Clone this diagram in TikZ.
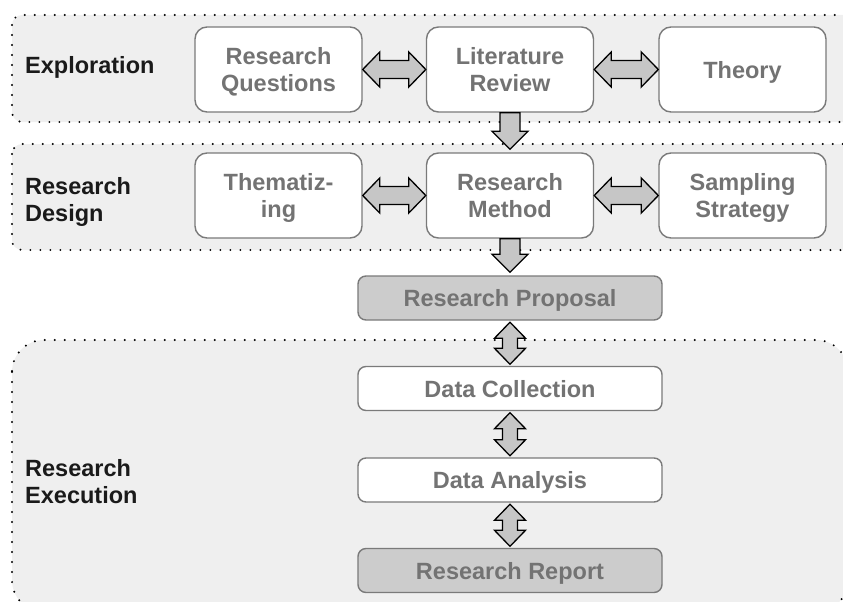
\documentclass[tikz,border=0pt]{standalone}
\usepackage{fontspec}
\setmainfont{Liberation Sans}
\usetikzlibrary{calc}
\definecolor{bandfill}{HTML}{EFEFEF}
\definecolor{boxline}{HTML}{7A7A7A}
\definecolor{boxtext}{HTML}{737373}
\definecolor{arrowfill}{HTML}{C6C6C6}
\definecolor{keyfill}{HTML}{CCCCCC}
\definecolor{labeltext}{HTML}{1A1A1A}
\tikzset{
  band/.style={fill=bandfill, draw=black, line width=2.2pt, line cap=round,
    dash pattern=on 0pt off 10pt},
  bandlabel/.style={anchor=west, align=left, text=labeltext, inner sep=0pt,
    text depth=0pt, font=\fontsize{23.5}{27}\selectfont\bfseries},
  stagebox/.style={draw=boxline, line width=1.4pt, fill=white, rounded corners=12pt,
    minimum width=167pt, minimum height=85pt, align=center, text=boxtext,
    inner sep=0pt, text depth=0pt, font=\fontsize{23.5}{27}\selectfont\bfseries},
  colbox/.style={stagebox, minimum width=304pt, minimum height=44pt, rounded corners=8pt},
  keybox/.style={colbox, fill=keyfill},
  arrowbase/.style={draw=black, line width=1.3pt, fill=arrowfill, line join=miter},
  % horizontal two-headed block arrow between two anchors
  hdbl/.style={arrowbase, to path={
    let \p1=(\tikztostart), \p2=(\tikztotarget) in
    (\x1,\y1) -- ({\x1+17pt},{\y1+17.5pt}) -- ({\x1+17pt},{\y1+9pt})
    -- ({\x2-17pt},{\y1+9pt}) -- ({\x2-17pt},{\y1+17.5pt}) -- (\x2,\y1)
    -- ({\x2-17pt},{\y1-17.5pt}) -- ({\x2-17pt},{\y1-9pt})
    -- ({\x1+17pt},{\y1-9pt}) -- ({\x1+17pt},{\y1-17.5pt}) -- cycle}},
  % vertical two-headed block arrow (start above target)
  vdbl/.style={arrowbase, to path={
    let \p1=(\tikztostart), \p2=(\tikztotarget) in
    (\x1,\y1) -- ({\x1+15.5pt},{\y1-16pt}) -- ({\x1+7.5pt},{\y1-16pt})
    -- ({\x1+7.5pt},{\y2+16pt}) -- ({\x1+15.5pt},{\y2+16pt}) -- (\x1,\y2)
    -- ({\x1-15.5pt},{\y2+16pt}) -- ({\x1-7.5pt},{\y2+16pt})
    -- ({\x1-7.5pt},{\y1-16pt}) -- ({\x1-15.5pt},{\y1-16pt}) -- cycle}},
  % downward one-headed block arrow
  vdown/.style={arrowbase, to path={
    let \p1=(\tikztostart), \p2=(\tikztotarget) in
    ({\x1-10pt},\y1) -- ({\x1+10pt},\y1) -- ({\x1+10pt},{\y2+18pt})
    -- ({\x1+18pt},{\y2+18pt}) -- (\x1,\y2) -- ({\x1-18pt},{\y2+18pt})
    -- ({\x1-10pt},{\y2+18pt}) -- cycle}},
}
\begin{document}
\begin{tikzpicture}[x=1pt, y=-1pt]
  \path[use as bounding box, clip] (0,0) rectangle (843,602);

  % phase bands
  \draw[band, rounded corners=10pt] (12,15) rectangle (853,122);
  \draw[band, rounded corners=10pt] (12,144) rectangle (853,250);
  \draw[band, rounded corners=32pt] (12,340) rectangle (848,612);

  \node[bandlabel] (lexp) at (25,65) {Exploration};
  \node[bandlabel] (ldes) at (25,199) {Research\\Design};
  \node[bandlabel] (lexe) at (25,481) {Research\\Execution};

  % exploration row
  \node[stagebox] (rq) at (278.5,69.5) {Research\\Questions};
  \node[stagebox] (lr) at (510,69.5) {Literature\\Review};
  \node[stagebox] (th) at (742.5,69.5) {Theory};

  % design row
  \node[stagebox] (them) at (278.5,195.5) {Thematiz-\\ing};
  \node[stagebox] (rm) at (510,195.5) {Research\\Method};
  \node[stagebox] (ss) at (742.5,195.5) {Sampling\\Strategy};

  % execution column
  \node[keybox] (rp) at (510,298) {Research Proposal};
  \node[colbox] (dc) at (510,388.5) {Data Collection};
  \node[colbox] (da) at (510,480) {Data Analysis};
  \node[keybox] (rr) at (510,570.5) {Research Report};

  % connectors
  \draw[hdbl] (rq.east) to (lr.west);
  \draw[hdbl] (lr.east) to (th.west);
  \draw[hdbl] (them.east) to (rm.west);
  \draw[hdbl] (rm.east) to (ss.west);
  \draw[vdown] (lr.south) to ([yshift=3pt]rm.north);
  \draw[vdown] (rm.south) to ([yshift=3pt]rp.north);
  \draw[vdbl] ([yshift=-1.5pt]rp.south) to ([yshift=1.5pt]dc.north);
  \draw[vdbl] ([yshift=-1.5pt]dc.south) to ([yshift=1.5pt]da.north);
  \draw[vdbl] ([yshift=-1.5pt]da.south) to ([yshift=1.5pt]rr.north);
\end{tikzpicture}
\end{document}
